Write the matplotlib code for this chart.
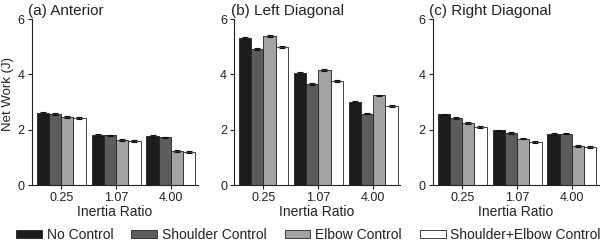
import matplotlib
matplotlib.use("Agg")
import matplotlib.pyplot as plt
import numpy as np

plt.rcParams['font.family'] = ['Liberation Sans', 'DejaVu Sans']

ratios = ["0.25", "1.07", "4.00"]
conditions = ["No Control", "Shoulder Control", "Elbow Control", "Shoulder+Elbow Control"]
panels = ["(a) Anterior", "(b) Left Diagonal", "(c) Right Diagonal"]

anterior = {
    "No Control": [2.61, 1.81, 1.77],
    "Shoulder Control": [2.56, 1.79, 1.72],
    "Elbow Control": [2.45, 1.63, 1.22],
    "Shoulder+Elbow Control": [2.41, 1.58, 1.19],
}
left_diag = {
    "No Control": [5.32, 4.04, 2.99],
    "Shoulder Control": [4.91, 3.64, 2.58],
    "Elbow Control": [5.38, 4.15, 3.24],
    "Shoulder+Elbow Control": [4.98, 3.77, 2.85],
}
right_diag = {
    "No Control": [2.55, 1.97, 1.85],
    "Shoulder Control": [2.41, 1.87, 1.86],
    "Elbow Control": [2.24, 1.68, 1.40],
    "Shoulder+Elbow Control": [2.09, 1.56, 1.38],
}
errors = [0.03, 0.03, 0.03]

colors = ["#1c1c1c", "#5c5c5c", "#a3a3a3", "#ffffff"]
data = [anterior, left_diag, right_diag]

fig = plt.figure(figsize=(6, 2.42), dpi=100)
lefts = [31.7 / 600, 234 / 600, 432.7 / 600]
width = 166 / 600
bottom = 1 - 185 / 242
height = (185 - 19) / 242

bw = 0.2227
x = np.arange(len(ratios))
handles = []
for i, (d, title) in enumerate(zip(data, panels)):
    ax = fig.add_axes([lefts[i], bottom, width, height])
    for j, cond in enumerate(conditions):
        off = (j - 1.5) * bw
        b = ax.bar(x + off, d[cond], bw, color=colors[j], edgecolor="#222222",
                   linewidth=0.6, label=cond, zorder=2)
        ax.errorbar(x + off, d[cond], yerr=errors, fmt="none", ecolor="#111111",
                    elinewidth=0.8, capsize=2.5, capthick=0.8, zorder=3)
        if i == 0:
            handles.append(b)
    ax.set_xlim(-0.536, 2.487)
    ax.set_ylim(0, 6)
    ax.set_yticks([0, 2, 4, 6])
    ax.set_xticks(x)
    ax.set_xticklabels(ratios)
    ax.spines['top'].set_visible(False)
    ax.spines['right'].set_visible(False)
    for s in ['left', 'bottom']:
        ax.spines[s].set_linewidth(0.8)
        ax.spines[s].set_color("#222222")
    ax.tick_params(axis='both', length=3, width=0.8, pad=2, labelsize=9,
                   colors="#222222")
    ax.set_xlabel("Inertia Ratio", fontsize=10, labelpad=1, color="#222222")
    if i == 0:
        ax.set_ylabel("Net Work (J)", fontsize=9.5, color="#222222")
        ax.yaxis.set_label_coords(-0.108, 0.55)
    ax.set_title(title, loc='left', x=-0.02, pad=3, fontsize=11, color="#222222")

fig.legend(handles, conditions, loc='center left', bbox_to_anchor=(16 / 600, 1 - 235 / 242),
           ncol=4, frameon=False, fontsize=10, handlelength=1.85, handleheight=0.55,
           handletextpad=0.35, columnspacing=1.3, borderpad=0, borderaxespad=0,
           labelcolor="#222222")

fig.savefig("out.png", dpi=100)
